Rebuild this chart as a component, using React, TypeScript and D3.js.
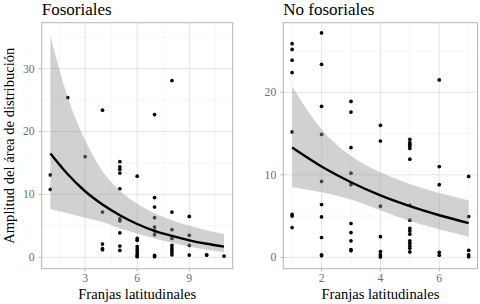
import React from "react";
import * as d3 from "d3";

// ---------- Data ----------
const fosX = [1, 1, 2, 3, 4, 4, 4, 4, 4, 5, 5, 5, 5, 5, 5, 5, 5, 5, 5, 6, 6, 6, 6, 6, 6, 6, 6, 6, 7, 7, 7, 7, 7, 7, 7, 7, 7, 8, 8, 8, 8, 8, 8, 8, 8, 8, 9, 9, 9, 9, 10, 10, 11];
const fosY = [13.1, 10.8, 25.4, 16.0, 23.4, 7.2, 2.1, 1.4, 1.2, 15.2, 14.4, 14.0, 13.4, 10.9, 6.1, 5.8, 3.9, 1.8, 1.1, 12.9, 3.0, 2.7, 1.7, 1.3, 0.9, 0.5, 0.2, 0.1, 22.7, 9.5, 8.0, 6.3, 4.8, 4.2, 3.6, 0.3, 0.1, 28.1, 7.2, 4.4, 3.0, 1.9, 1.5, 1.15, 0.8, 0.4, 6.5, 3.5, 1.9, 0.35, 0.4, 0.35, 0.2];

const nofX = [1, 1, 1, 1, 1, 1, 1, 1, 2, 2, 2, 2, 2, 2, 2, 2, 2, 2, 3, 3, 3, 3, 3, 3, 3, 3, 3, 3, 4, 4, 4, 4, 4, 4, 4, 5, 5, 5, 5, 5, 5, 5, 5, 5, 5, 5, 5, 5, 5, 5, 5, 6, 6, 6, 6, 6, 7, 7, 7, 7, 7];
const nofY = [25.9, 25.2, 23.9, 22.4, 15.2, 5.2, 5.0, 3.6, 27.2, 23.4, 18.3, 14.9, 9.2, 6.4, 4.9, 2.4, 0.3, 0.2, 18.9, 17.6, 13.3, 10.2, 8.8, 4.1, 3.0, 2.0, 0.95, 0.8, 16.0, 14.1, 6.2, 2.5, 0.7, 0.3, 0.05, 14.3, 13.9, 13.7, 13.5, 13.2, 11.9, 6.3, 4.5, 3.5, 3.2, 2.8, 2.0, 1.7, 1.4, 1.1, 0.65, 21.5, 11.0, 8.8, 0.6, 0.25, 9.8, 4.95, 0.85, 0.3, 0.08];

const fosFitX = [1, 2, 3, 4, 5, 6, 7, 8, 9, 10, 11];
const fosFit = [16.5, 13.2, 10.5, 8.4, 6.7, 5.3, 4.2, 3.4, 2.7, 2.15, 1.7];
const fosUpper = [35.2, 25.5, 18.6, 13.7, 10.6, 8.5, 7.0, 5.9, 5.0, 4.3, 3.7];
const fosLower = [7.7, 7.0, 6.3, 5.6, 4.6, 3.8, 3.0, 2.3, 1.7, 1.2, 0.8];

const nofFitX = [1, 2, 3, 4, 5, 6, 7];
const nofFit = [13.3, 11.0, 9.1, 7.5, 6.2, 5.1, 4.15];
const nofUpper = [20.7, 15.5, 12.3, 10.3, 8.9, 7.8, 6.9];
const nofLower = [8.5, 7.9, 7.0, 5.7, 4.4, 3.4, 2.5];

const fosXTicks = [3, 6, 9];
const fosXMinor = [1.5, 4.5, 7.5, 10.5];
const fosYTicks = [0, 10, 20, 30];
const fosYMinor = [5, 15, 25, 35];
const nofXTicks = [2, 4, 6];
const nofXMinor = [1, 3, 5, 7];
const nofYTicks = [0, 10, 20];
const nofYMinor = [5, 15, 25];

const titles = ["Fosoriales", "No fosoriales"];
const xTitle = "Franjas latitudinales";
const yTitle = "Amplitud del área de distribución";

const FONT = "'Liberation Serif', 'Times New Roman', 'DejaVu Serif', serif";

type PanelProps = {
  title: string;
  px: [number, number];
  py: [number, number];
  xDomain: [number, number];
  yDomain: [number, number];
  xs: number[];
  ys: number[];
  fitX: number[];
  fit: number[];
  upper: number[];
  lower: number[];
  xTicks: number[];
  xMinor: number[];
  yTicks: number[];
  yMinor: number[];
};

function Panel(p: PanelProps) {
  const x = d3.scaleLinear().domain(p.xDomain).range(p.px);
  const y = d3.scaleLinear().domain(p.yDomain).range(p.py);
  const [x0, x1] = p.px;
  const [y1, y0] = p.py;
  const idx = p.fitX.map((_, i) => i);
  const area = d3
    .area<number>()
    .x((i) => x(p.fitX[i]))
    .y0((i) => y(p.lower[i]))
    .y1((i) => y(p.upper[i]))
    .curve(d3.curveMonotoneX);
  const line = d3
    .line<number>()
    .x((i) => x(p.fitX[i]))
    .y((i) => y(p.fit[i]))
    .curve(d3.curveMonotoneX);
  const grid = "#e4e4e4";
  const minor = "#f0f0f0";
  return (
    <g>
      <text x={x0} y={15.3} fontFamily={FONT} fontSize={17} fill="#000">
        {p.title}
      </text>
      <rect x={x0} y={y0} width={x1 - x0} height={y1 - y0} fill="#fff" />
      {p.xMinor.map((t) => (
        <line key={"xm" + t} x1={x(t)} x2={x(t)} y1={y0} y2={y1} stroke={minor} strokeWidth={0.6} />
      ))}
      {p.yMinor.map((t) => (
        <line key={"ym" + t} x1={x0} x2={x1} y1={y(t)} y2={y(t)} stroke={minor} strokeWidth={0.6} />
      ))}
      {p.xTicks.map((t) => (
        <line key={"xg" + t} x1={x(t)} x2={x(t)} y1={y0} y2={y1} stroke={grid} strokeWidth={1} />
      ))}
      {p.yTicks.map((t) => (
        <line key={"yg" + t} x1={x0} x2={x1} y1={y(t)} y2={y(t)} stroke={grid} strokeWidth={1} />
      ))}
      {p.xs.map((v, i) => (
        <circle key={"pt" + i} cx={x(v)} cy={y(p.ys[i])} r={1.85} fill="#000" />
      ))}
      <path d={area(idx) || ""} fill="#999999" fillOpacity={0.45} />
      <path d={line(idx) || ""} fill="none" stroke="#000" strokeWidth={2.4} />
      <rect x={x0} y={y0} width={x1 - x0} height={y1 - y0} fill="none" stroke="#b3b3b3" strokeWidth={1} />
      {p.xTicks.map((t) => (
        <g key={"xt" + t}>
          <line x1={x(t)} x2={x(t)} y1={y1} y2={y1 + 2.7} stroke="#b3b3b3" />
          <text x={x(t)} y={282} textAnchor="middle" fontFamily={FONT} fontSize={11.7} fill="#6e6e6e">
            {t}
          </text>
        </g>
      ))}
      {p.yTicks.map((t) => (
        <g key={"yt" + t}>
          <line x1={x0 - 2.7} x2={x0} y1={y(t)} y2={y(t)} stroke="#b3b3b3" />
          <text x={x0 - 7} y={y(t)} dy="0.34em" textAnchor="end" fontFamily={FONT} fontSize={11.7} fill="#6e6e6e">
            {t}
          </text>
        </g>
      ))}
      <text x={(x0 + x1) / 2} y={299} textAnchor="middle" fontFamily={FONT} fontSize={14.6} fill="#000">
        {xTitle}
      </text>
    </g>
  );
}

export default function App() {
  return (
    <svg
      width={480}
      height={304}
      style={{ position: "absolute", left: 0, top: 0, background: "#fff" }}
    >
      <rect width={480} height={304} fill="#fff" />
      <Panel
        title={titles[0]}
        px={[41.7, 232.7]}
        py={[268.7, 22.7]}
        xDomain={[0.5, 11.5]}
        yDomain={[-1.81, 37.3]}
        xs={fosX}
        ys={fosY}
        fitX={fosFitX}
        fit={fosFit}
        upper={fosUpper}
        lower={fosLower}
        xTicks={fosXTicks}
        xMinor={fosXMinor}
        yTicks={fosYTicks}
        yMinor={fosYMinor}
      />
      <Panel
        title={titles[1]}
        px={[283.3, 477.5]}
        py={[268.7, 22.7]}
        xDomain={[0.7, 7.3]}
        yDomain={[-1.38, 28.44]}
        xs={nofX}
        ys={nofY}
        fitX={nofFitX}
        fit={nofFit}
        upper={nofUpper}
        lower={nofLower}
        xTicks={nofXTicks}
        xMinor={nofXMinor}
        yTicks={nofYTicks}
        yMinor={nofYMinor}
      />
      <text
        transform="translate(13.8,145.7) rotate(-90)"
        textAnchor="middle"
        fontFamily={FONT}
        fontSize={14.6}
        fill="#000"
      >
        {yTitle}
      </text>
    </svg>
  );
}
